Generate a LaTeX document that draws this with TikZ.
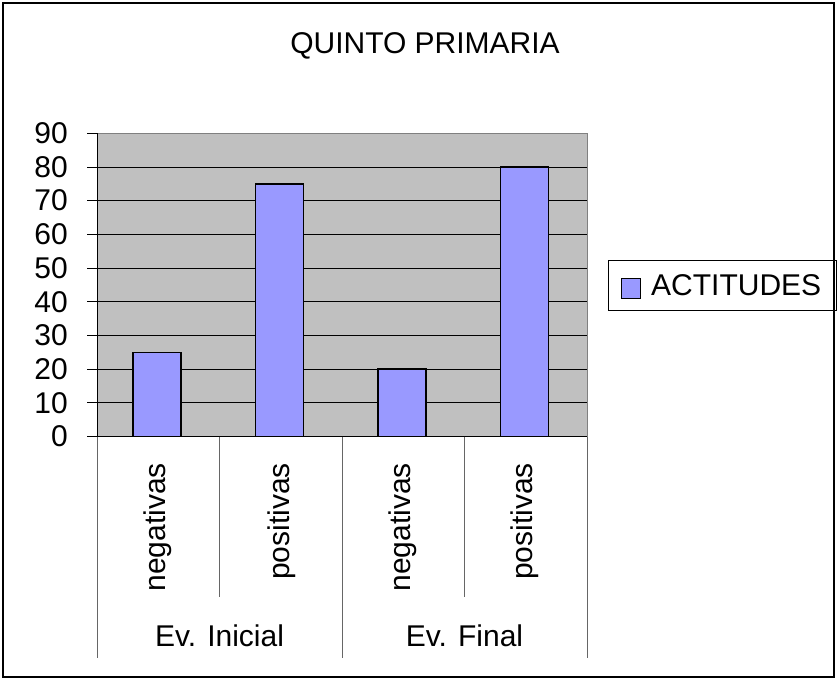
\documentclass[tikz,border=0pt]{standalone}
\usepackage{fontspec}
\setmainfont{Liberation Sans}
\definecolor{plotgray}{HTML}{C0C0C0}
\definecolor{barblue}{HTML}{9999FF}
\newcommand\chartfont{\fontsize{30}{34}\selectfont}
\tikzset{
  lbl/.style={inner sep=0pt, font=\chartfont},
  bar/.style={fill=barblue, draw=black, line width=1.5pt},
  sep/.style={draw=black!60, line width=1pt}
}
\begin{document}
\begin{tikzpicture}[x=1pt,y=-1pt]
\useasboundingbox (0,0) rectangle (837,680);
\draw[line width=2pt] (3,3) rectangle (834,677);

\node[lbl] (title) at (425,46) {QUINTO PRIMARIA};

% plot area and grid
\fill[plotgray] (97,133.2) rectangle (587,436.5);
\foreach \v in {10,20,...,80} {
  \draw[line width=0.8pt] (97,436.5-\v*3.37) -- (587,436.5-\v*3.37);
}
\draw[black!50, line width=1pt] (97,133.2) -- (587,133.2) -- (587,436.5);

% bars
\foreach \c/\v in {1/25,2/75,3/20,4/80} {
  \pgfmathsetmacro\xc{97+122.5*(\c-0.5)-1.5}
  \draw[bar] (\xc-24,436.5) rectangle (\xc+24,436.5-\v*3.37);
}

% value axis
\draw[line width=1pt] (97,133.2) -- (97,436.5);
\foreach \v in {0,10,...,90} {
  \draw[line width=0.8pt] (87,436.5-\v*3.37) -- (97,436.5-\v*3.37);
  \node[lbl, anchor=east] (y\v) at (68,436.5-\v*3.37) {\v};
}

% category axis
\draw[line width=1pt] (97,436.5) -- (587,436.5);
\foreach \x in {219,464} \draw[sep] (\x,436.5) -- (\x,597);
\foreach \x in {97,342,587} \draw[sep] (\x,436.5) -- (\x,658);
\node[lbl, rotate=90, anchor=east] (neg1) at (158,463) {negativas};
\node[lbl, rotate=90, anchor=east] (pos1) at (282,463) {positivas};
\node[lbl, rotate=90, anchor=east] (neg2) at (403,463) {negativas};
\node[lbl, rotate=90, anchor=east] (pos2) at (525,463) {positivas};
\node[lbl] (ini) at (219.5,636) {Ev. Inicial};
\node[lbl] (fin) at (464.5,636) {Ev. Final};

% legend
\draw[line width=0.8pt] (608,260) rectangle (836,310);
\draw[fill=barblue, line width=1pt] (621,278.5) rectangle (640.5,298.5);
\node[lbl, anchor=west] (leg) at (651,285) {ACTITUDES};
\end{tikzpicture}
\end{document}
